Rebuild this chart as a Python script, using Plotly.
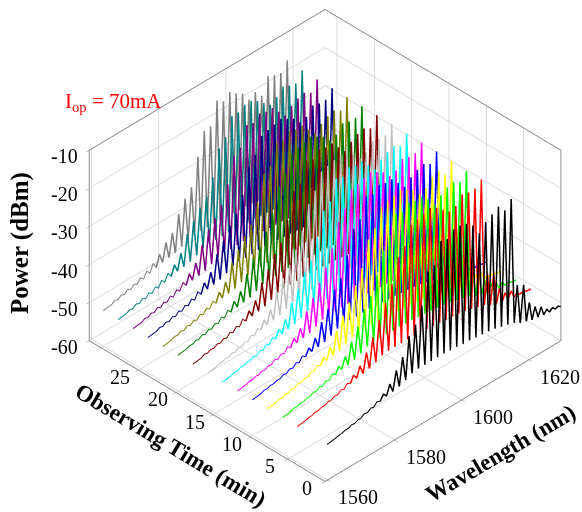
import plotly.graph_objects as go

peak_wl = [1561.5,1563.4,1565.3,1567.2,1569.1,1571.0,1572.9,1574.8,1576.7,1578.6,1580.5,1582.4,1584.3,1586.2,1588.1,1590.0,1591.9,1593.8,1595.7,1597.6,1599.5,1601.4,1603.3,1605.2,1607.1,1609.0,1610.9,1612.8,1614.7,1616.5,1618.4,1620.1,1621.8,1623.6,1625.3,1627.0,1628.7]
valley_wl = [1562.4,1564.3,1566.2,1568.1,1570.0,1571.9,1573.8,1575.7,1577.6,1579.5,1581.4,1583.3,1585.2,1587.1,1589.0,1590.9,1592.8,1594.7,1596.6,1598.5,1600.4,1602.3,1604.2,1606.1,1608.0,1609.9,1611.8,1613.7,1615.6,1617.4,1619.2,1620.9,1622.7,1624.4,1626.1,1627.8,1629.4]
valley_db = [-50.3,-50,-49.7,-49.4,-49,-48.6,-48.1,-47.6,-47.2,-47,-46.7,-46,-45.2,-45,-45,-45,-45,-45,-45.2,-45.3,-45.5,-45.6,-45.8,-46,-46.2,-46.5,-47,-47.5,-48,-49,-49.5,-50,-50.2,-50.5,-50.7,-50.8,-51]
start_wl = 1559.9
start_db = -50.6

times = [0,4,6,8,10,12,14,16,18,20,22,24,26,28,30]
colors = ["black","red","lime","yellow","blue","magenta","cyan","silver","maroon","green","olive","navy","purple","teal","gray"]

p0  = [-50.4,-50,-49.7,-49.3,-49,-48.4,-47.9,-47.2,-46.2,-44.6,-42,-39.5,-35,-33,-29,-21,-20.5,-15,-15.5,-14,-14,-14.5,-16,-19,-17,-16,-15,-17,-15,-38.5,-39.5,-45,-47,-48,-49.5,-50,-50.5]
p4  = [-50.4,-50,-49.6,-49.3,-48.9,-48.4,-47.8,-47.1,-46,-44.5,-42,-39,-35.5,-32,-28,-22,-20,-15.5,-15,-14.5,-14,-15,-16.5,-18,-17.5,-15.5,-16,-16,-14.6,-40,-41,-46,-48,-48.5,-50,-50.5,-51]
p6  = [-50.4,-49.9,-49.6,-49.3,-48.8,-48.3,-47.8,-47,-46,-44.4,-41.5,-38.5,-35,-32.5,-28,-22.5,-19.5,-15,-15.5,-14,-14.5,-14.5,-16,-18.5,-17,-16,-15.5,-16.5,-14.7,-40,-41.5,-46,-47.5,-49,-49.5,-50.5,-51]
p8  = [-50.4,-50,-49.6,-49.2,-48.8,-48.4,-47.8,-47,-45.9,-44.2,-41,-38,-35.5,-32,-28.5,-22,-20,-15.5,-15,-14.5,-14,-15,-16,-18,-17.5,-15.5,-15,-17,-14.4,-39.5,-41,-46,-48,-48.5,-50,-50.5,-51]
p10 = [-50.4,-49.9,-49.6,-49.3,-48.8,-48.3,-47.7,-46.9,-45.8,-44.2,-41,-38.5,-34.5,-32.5,-27.5,-21.5,-20,-15,-15.5,-14,-14.5,-14.5,-16.5,-18.5,-17,-16,-15.5,-16.5,-14.2,-39.5,-40.5,-45.5,-47.5,-49,-49.5,-50.5,-51]
p12 = [-50.4,-49.9,-49.6,-49.2,-48.8,-48.2,-47.7,-46.8,-45.7,-44,-40.5,-38,-35,-32,-28,-22,-19.5,-15.5,-15,-14.5,-14,-15,-16,-18,-17.5,-15.5,-16,-16,-14.2,-39,-41,-46,-47.5,-48.5,-50,-50.5,-51]
p14 = [-50.4,-49.9,-49.5,-49.2,-48.7,-48.2,-47.6,-46.8,-45.6,-44,-40.5,-38,-34.5,-32.5,-27.5,-21.5,-20,-15,-15.5,-14,-14.5,-14.5,-16.5,-18.5,-17,-16,-15.5,-16.5,-14.2,-39.5,-40.5,-46,-47.5,-49,-49.5,-50.5,-51]
p16 = [-50.4,-49.9,-49.5,-49.1,-48.7,-48.2,-47.5,-46.7,-45.5,-43.8,-40,-37.5,-35,-32,-28,-22,-19.5,-15.5,-15,-14.5,-14,-15,-16,-18,-17.5,-15.5,-16,-16,-14.1,-39,-41,-46,-48,-48.5,-50,-50.5,-51]
p18 = [-50.4,-49.8,-49.5,-49.1,-48.7,-48.1,-47.5,-46.6,-45.4,-43.7,-40,-37.5,-34.5,-32.5,-27.5,-21,-20,-15,-15.5,-14,-14.5,-14.5,-16.5,-18.5,-17,-16,-15.5,-16.5,-14,-39.5,-40.5,-46,-47.5,-49,-49.5,-50.5,-51]
p20 = [-50.4,-49.9,-49.5,-49,-48.6,-48.1,-47.4,-46.6,-45.3,-43.6,-40,-37,-35,-32,-28,-22,-19.5,-15.5,-15,-14.5,-14,-15,-16,-18,-17.5,-15.5,-16,-16,-14,-39,-41,-46,-48,-48.5,-50,-50.5,-51]
p22 = [-50.4,-49.8,-49.4,-49,-48.6,-48,-47.4,-46.5,-45.2,-43.5,-39.5,-37,-34.5,-32.5,-27.5,-21,-20,-15,-15.5,-14,-14.5,-14.5,-16.5,-18.5,-17,-16,-15.5,-16.5,-14,-39.5,-40.5,-46,-47.5,-49,-49.5,-50.5,-51]
p24 = [-50.4,-49.8,-49.4,-49,-48.5,-48,-47.3,-46.4,-45.1,-43.3,-39.5,-37,-34,-32,-28,-21.5,-19.5,-15.5,-15,-14.5,-14,-15,-16,-18,-17.5,-15.5,-16,-16,-14,-39,-41,-46,-48,-48.5,-50,-50.5,-51]
p26 = [-50.4,-49.8,-49.4,-48.9,-48.5,-47.9,-47.2,-46.3,-45,-43.2,-39.5,-36.5,-34.5,-32,-27.5,-21,-20,-15,-15.5,-14,-14.5,-14.5,-16.5,-18.5,-17,-16,-15.5,-16.5,-14,-39.5,-40.5,-46,-47.5,-49,-49.5,-50.5,-51]
p28 = [-50.4,-49.8,-49.3,-48.9,-48.4,-47.8,-47.1,-46.2,-45,-43,-39,-36.5,-34,-32,-28,-21.5,-19.5,-15,-15,-14,-14,-15,-16.5,-18,-17,-15.2,-16,-16.4,-14,-39,-41,-46,-48,-48.5,-50,-50.5,-51]
p30 = [-50.4,-49.7,-49.3,-48.8,-48.4,-47.8,-47,-46,-44.6,-42.5,-41,-37,-34,-32,-25,-19.2,-19,-13.2,-14.5,-13,-14.4,-15.4,-18,-17,-19,-14.8,-15.6,-16,-13.7,-39,-41,-46,-48,-48.5,-50,-50.5,-51]
peak_rows = [p0,p4,p6,p8,p10,p12,p14,p16,p18,p20,p22,p24,p26,p28,p30]

x_ticks = [1560,1580,1600,1620]
y_ticks = [0,5,10,15,20,25,30]
y_labels = ["0","5","10","15","20","25"]
z_ticks = [-60,-50,-40,-30,-20,-10]

THIN = 16  # first points of each trace, where the ripple is too small to thicken the line
fig = go.Figure()
for t, c, row in zip(times, colors, peak_rows):
    xs, zs = [start_wl], [start_db]
    for pw, pv, vw, vv in zip(peak_wl, row, valley_wl, valley_db):
        xs += [pw, vw]
        zs += [pv, vv]
    fig.add_trace(go.Scatter3d(x=xs[:THIN+1], y=[t]*(THIN+1), z=zs[:THIN+1], mode="lines",
                               line=dict(color=c, width=2), showlegend=False, hoverinfo="skip"))
    fig.add_trace(go.Scatter3d(x=xs[THIN:], y=[t]*(len(xs)-THIN), z=zs[THIN:], mode="lines",
                               line=dict(color=c, width=3), showlegend=False, hoverinfo="skip"))

def ax(rng, tv):
    return dict(title=dict(text=""), range=rng, tickvals=tv, showticklabels=False,
                showgrid=True, gridcolor="#d8d8d8", gridwidth=2,
                showline=True, linecolor="#808080", linewidth=2, mirror=True,
                ticks="outside", ticklen=4, tickcolor="#808080", showbackground=False,
                zeroline=False, showspikes=False, autorange=False)

tick_font = dict(family="Liberation Serif", size=20, color="black")
scene_ann = []
XMIN, YMIN, ZMIN = 1559.3, 0, -60
for v in x_ticks:
    scene_ann.append(dict(x=v, y=YMIN, z=ZMIN, text=str(v), showarrow=False, font=tick_font,
                          xanchor="center", yanchor="middle", xshift=31, yshift=-17))
for v, s in zip(y_ticks, y_labels):
    scene_ann.append(dict(x=XMIN, y=v, z=ZMIN, text=s, showarrow=False, font=tick_font,
                          xanchor="center", yanchor="middle", xshift=-18, yshift=-7))
for v in z_ticks:
    scene_ann.append(dict(x=XMIN, y=31.6, z=v, text=str(v), showarrow=False, font=tick_font,
                          xanchor="right", yanchor="middle", xshift=-9, yshift=-6))

def title(text, px, py, angle, size):
    return dict(text="<b>%s</b>" % text, x=px/582, y=1-py/512, xref="paper", yref="paper",
                showarrow=False, xanchor="center", yanchor="middle", textangle=angle,
                font=dict(family="Liberation Serif", size=size, color="black"))

fig.update_layout(
    width=582, height=512, margin=dict(l=0,r=0,t=0,b=0), paper_bgcolor="white", showlegend=False,
    scene=dict(
        domain=dict(x=[0,1],y=[0,1]),
        xaxis=ax([XMIN,1629.5], x_ticks),
        yaxis=ax([YMIN,31.6], y_ticks),
        zaxis=ax([ZMIN,-10], z_ticks),
        aspectmode="manual", aspectratio=dict(x=1.303,y=1.303,z=0.927),
        camera=dict(projection=dict(type="orthographic"), up=dict(x=0,y=0,z=1),
                    center=dict(x=-0.1427,y=0.0454,z=0), eye=dict(x=-1.1027,y=-0.9146,z=1.01)),
        annotations=scene_ann,
    ),
    annotations=[
        dict(text="I<sub>op</sub> = 70mA", x=63/582, y=1-102/512, xref="paper", yref="paper",
             showarrow=False, xanchor="left", yanchor="middle",
             font=dict(family="Liberation Serif", size=21, color="red")),
        title("Wavelength (nm)", 500.5, 453.5, -30.5, 23),
        title("Observing Time (min)", 171, 445, 31, 23),
        title("Power (dBm)", 20, 243, -90, 25),
    ],
)
fig.write_html("out.html", config=dict(displayModeBar=False),
               post_script="document.documentElement.style.margin='0';document.body.style.margin='0';document.body.style.overflow='hidden';")
